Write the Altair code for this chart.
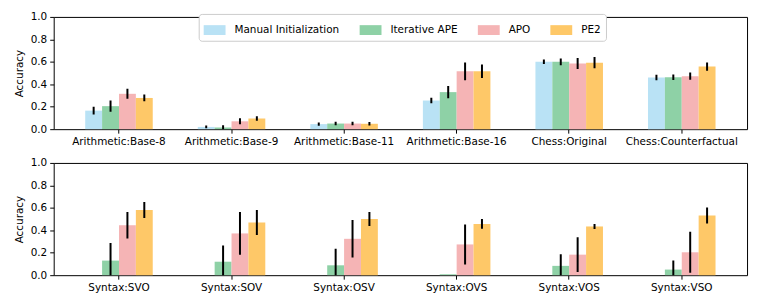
import altair as alt
import pandas as pd

series = ["Manual Initialization", "Iterative APE", "APO", "PE2"]
colors = ["#b9e2f5", "#8ed1a6", "#f5b4b5", "#fec868"]

cats_top = ["Arithmetic:Base-8", "Arithmetic:Base-9", "Arithmetic:Base-11",
            "Arithmetic:Base-16", "Chess:Original", "Chess:Counterfactual"]
manual_top = [0.165, 0.02, 0.045, 0.255, 0.60, 0.46]
manual_top_err = [0.035, 0.012, 0.015, 0.025, 0.02, 0.025]
ape_top = [0.205, 0.015, 0.05, 0.33, 0.60, 0.463]
ape_top_err = [0.05, 0.02, 0.015, 0.055, 0.03, 0.025]
apo_top = [0.315, 0.07, 0.05, 0.515, 0.585, 0.472]
apo_top_err = [0.045, 0.027, 0.015, 0.08, 0.05, 0.032]
pe2_top = [0.278, 0.095, 0.048, 0.515, 0.592, 0.558]
pe2_top_err = [0.03, 0.02, 0.015, 0.06, 0.05, 0.037]

cats_bot = ["Syntax:SVO", "Syntax:SOV", "Syntax:OSV",
            "Syntax:OVS", "Syntax:VOS", "Syntax:VSO"]
manual_bot = [0, 0, 0, 0, 0, 0]
manual_bot_err = [0, 0, 0, 0, 0, 0]
ape_bot = [0.13, 0.12, 0.088, 0.008, 0.083, 0.05]
ape_bot_err = [0.156, 0.145, 0.148, 0.0, 0.103, 0.08]
apo_bot = [0.445, 0.372, 0.324, 0.274, 0.183, 0.204]
apo_bot_err = [0.118, 0.19, 0.167, 0.178, 0.155, 0.183]
pe2_bot = [0.581, 0.469, 0.5, 0.457, 0.434, 0.531]
pe2_bot_err = [0.072, 0.112, 0.062, 0.044, 0.022, 0.071]

y_ticks = [0.0, 0.2, 0.4, 0.6, 0.8, 1.0]


def build(cats, vals, errs):
    rows = []
    for s, v, e in zip(series, vals, errs):
        for c, vv, ee in zip(cats, v, e):
            rows.append({"cat": c, "series": s, "value": vv,
                         "lo": vv - ee, "hi": vv + ee, "err": ee})
    return pd.DataFrame(rows)


df_top = build(cats_top, [manual_top, ape_top, apo_top, pe2_top],
               [manual_top_err, ape_top_err, apo_top_err, pe2_top_err])
df_bot = build(cats_bot, [manual_bot, ape_bot, apo_bot, pe2_bot],
               [manual_bot_err, ape_bot_err, apo_bot_err, pe2_bot_err])

W, H = 698, 113
FS = 10.5


def panel(df, cats, show_legend):
    xaxis = alt.Axis(labelAngle=0, tickSize=4, labelPadding=3,
                     domain=False, tickColor="black",
                     labelColor="black", labelFontSize=FS,
                     labelOverlap=False)
    xscale = alt.Scale(paddingInner=0.4, paddingOuter=0.28)
    xoff = alt.XOffset("series:N", sort=series,
                       scale=alt.Scale(paddingInner=0, paddingOuter=0))
    yaxis = alt.Axis(values=y_ticks, format=".1f",
                     grid=False, tickSize=4, domain=False,
                     tickColor="black", labelColor="black",
                     labelFontSize=FS, titleFontSize=FS,
                     labelOverlap=False, labelPadding=3,
                     titleFontWeight="normal", titleColor="black",
                     titlePadding=6)
    yscale = alt.Scale(domain=[0, 1], nice=False)
    if show_legend:
        legend = alt.Legend(title=None, orient="none", legendX=146, legendY=-3,
                            direction="horizontal", columns=4,
                            symbolType="M-1,-0.45H1V0.45H-1Z", symbolSize=484,
                            symbolStrokeWidth=0, labelFontSize=FS,
                            labelColor="black", labelOffset=9,
                            columnPadding=20, padding=5,
                            strokeColor="#cccccc", fillColor="white",
                            cornerRadius=3)
    else:
        legend = None
    cenc = alt.Color("series:N", sort=series,
                     scale=alt.Scale(domain=series, range=colors),
                     legend=legend)
    bars = alt.Chart(df).mark_bar().encode(
        x=alt.X("cat:N", sort=cats, title=None, scale=xscale, axis=xaxis),
        xOffset=xoff,
        y=alt.Y("value:Q", title="Accuracy", scale=yscale, axis=yaxis),
        color=cenc)
    errs = alt.Chart(df).transform_filter("datum.err > 0").mark_rule(
        color="black", strokeWidth=2, clip=True).encode(
        x=alt.X("cat:N", sort=cats, title=None, scale=xscale, axis=xaxis),
        xOffset=xoff,
        y=alt.Y("lo:Q", title="Accuracy", scale=yscale, axis=yaxis),
        y2="hi:Q")
    return alt.layer(bars, errs).properties(width=W, height=H)


chart = alt.vconcat(
    panel(df_top, cats_top, True), panel(df_bot, cats_bot, False), spacing=10
).configure(font="DejaVu Sans").configure_view(
    stroke="black", strokeWidth=1
).properties(padding={"top": 2, "left": 5, "right": 5, "bottom": 5})

chart.save("out.html", embed_options={"renderer": "svg", "actions": False})
